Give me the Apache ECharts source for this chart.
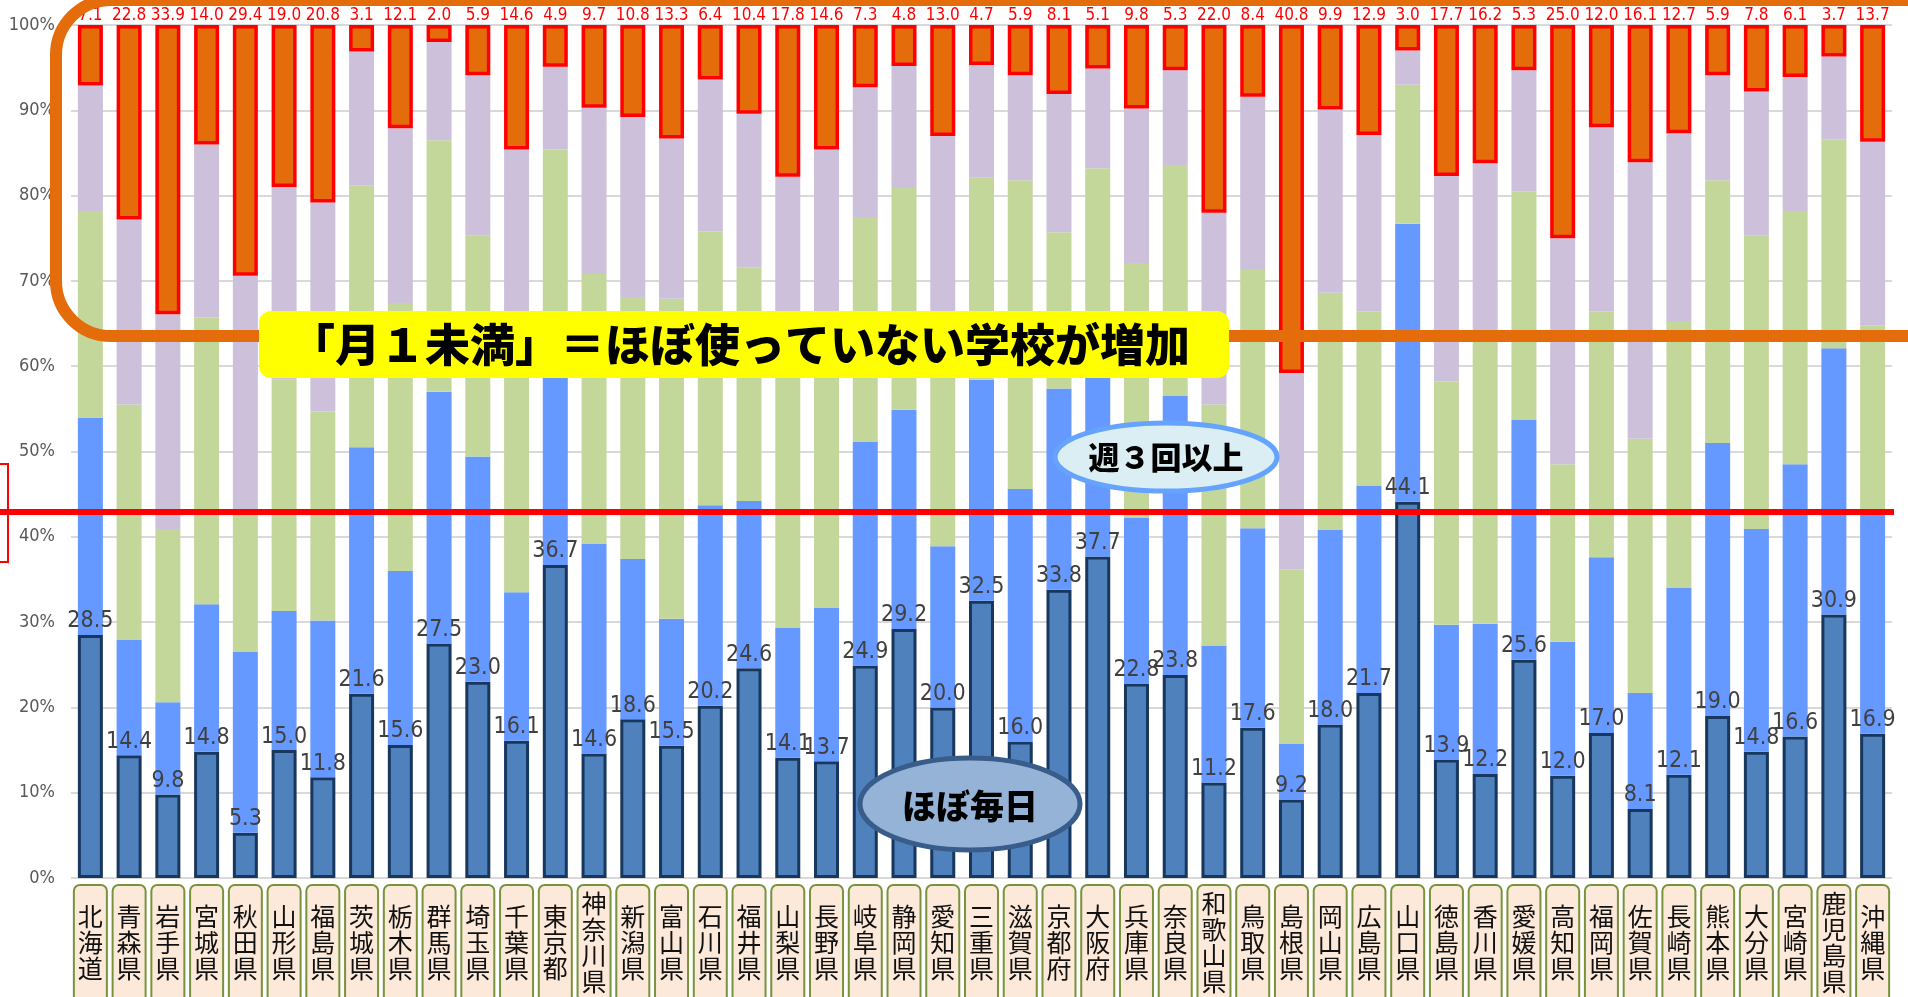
<!DOCTYPE html>
<html lang="ja">
<head>
<meta charset="utf-8">
<title>都道府県別 ICT活用頻度</title>
<script src="https://cdn.jsdelivr.net/npm/echarts@6/dist/echarts.min.js"></script>
<style>
  html, body { margin: 0; padding: 0; background: #fff; }
  #chart { width: 1908px; height: 997px; }
</style>
</head>
<body>
<div id="chart"></div>
<script>
const prefectures = ['北海道', '青森県', '岩手県', '宮城県', '秋田県', '山形県', '福島県', '茨城県', '栃木県', '群馬県',
  '埼玉県', '千葉県', '東京都', '神奈川県', '新潟県', '富山県', '石川県', '福井県', '山梨県', '長野県',
  '岐阜県', '静岡県', '愛知県', '三重県', '滋賀県', '京都府', '大阪府', '兵庫県', '奈良県', '和歌山県',
  '鳥取県', '島根県', '岡山県', '広島県', '山口県', '徳島県', '香川県', '愛媛県', '高知県', '福岡県',
  '佐賀県', '長崎県', '熊本県', '大分県', '宮崎県', '鹿児島県', '沖縄県'];

// % of schools, bottom to top
const daily = [28.5, 14.4, 9.8, 14.8, 5.3, 15.0, 11.8, 21.6, 15.6, 27.5,
  23.0, 16.1, 36.7, 14.6, 18.6, 15.5, 20.2, 24.6, 14.1, 13.7,
  24.9, 29.2, 20.0, 32.5, 16.0, 33.8, 37.7, 22.8, 23.8, 11.2,
  17.6, 9.2, 18.0, 21.7, 44.1, 13.9, 12.2, 25.6, 12.0, 17.0,
  8.1, 12.1, 19.0, 14.8, 16.6, 30.9, 16.9];
const weekly3 = [25.5, 13.5, 10.8, 17.3, 21.2, 16.3, 18.4, 28.9, 20.4, 29.5,
  26.4, 17.4, 23.3, 24.6, 18.8, 14.9, 23.5, 19.6, 15.2, 18.0,
  26.2, 25.7, 18.9, 25.9, 29.6, 23.6, 22.8, 19.4, 32.7, 16.0,
  23.4, 6.5, 22.8, 24.3, 32.6, 15.8, 17.6, 28.1, 15.7, 20.6,
  13.6, 21.9, 32.0, 26.1, 31.9, 31.2, 26.1];
const weekly1 = [24.2, 27.6, 20.3, 33.6, 16.5, 27.1, 24.5, 30.7, 31.4, 29.5,
  25.9, 28.5, 25.4, 31.6, 30.7, 37.5, 32.1, 27.4, 32.7, 30.3,
  26.4, 26.0, 23.1, 23.7, 36.2, 18.3, 22.7, 29.9, 27.1, 28.3,
  30.4, 20.5, 27.8, 20.4, 16.3, 28.5, 33.6, 26.8, 20.8, 28.8,
  29.8, 31.3, 30.8, 34.4, 29.7, 24.5, 21.8];
const monthly1 = [14.7, 21.7, 25.2, 20.3, 27.6, 22.6, 24.5, 15.7, 20.5, 11.5,
  18.8, 23.4, 9.7, 19.5, 21.1, 18.8, 17.8, 18.0, 20.2, 23.4,
  15.2, 14.3, 25.0, 13.2, 12.3, 16.2, 11.7, 18.1, 11.1, 22.5,
  20.2, 23.0, 21.5, 20.7, 4.0, 24.1, 20.4, 14.2, 26.5, 21.6,
  32.4, 22.0, 12.3, 16.9, 15.7, 9.7, 21.5];
const underMonthly = [7.1, 22.8, 33.9, 14.0, 29.4, 19.0, 20.8, 3.1, 12.1, 2.0,
  5.9, 14.6, 4.9, 9.7, 10.8, 13.3, 6.4, 10.4, 17.8, 14.6,
  7.3, 4.8, 13.0, 4.7, 5.9, 8.1, 5.1, 9.8, 5.3, 22.0,
  8.4, 40.8, 9.9, 12.9, 3.0, 17.7, 16.2, 5.3, 25.0, 12.0,
  16.1, 12.7, 5.9, 7.8, 6.1, 3.7, 13.7];
const nationalDaily = 42.9;

const numFont = 'DejaVu Sans Condensed';
const jpFont = 'Noto Sans CJK JP';

const chart = echarts.init(document.getElementById('chart'));

function seg(name, data, color, extra) {
  return Object.assign({
    name, type: 'bar', stack: 'total', data, barWidth: 25,
    itemStyle: { color }, emphasis: { disabled: true }
  }, extra || {});
}

chart.setOption({
  animation: false,
  backgroundColor: '#fff',
  grid: { left: 71, right: 16, top: 25, bottom: 119, outerBoundsMode: 'none' },
  xAxis: {
    type: 'category', data: prefectures,
    axisLine: { show: false }, axisTick: { show: false },
    axisLabel: {
      interval: 0, margin: 8, color: '#111', fontFamily: jpFont, fontSize: 25, lineHeight: 26,
      width: 31, height: 122, padding: [4, 0, 0, 0],
      backgroundColor: '#fde9d9', borderColor: '#77933c', borderWidth: 2, borderRadius: 5,
      formatter: name => (name.length < 4 ? '{sp|}\n' : '') + name.split('').join('\n'),
      rich: { sp: { height: 13, lineHeight: 13 } }
    }
  },
  yAxis: {
    type: 'value', min: 0, max: 100, interval: 10,
    axisLabel: { formatter: '{value}%', color: '#595959', fontFamily: numFont, fontSize: 18, margin: 16 },
    splitLine: { lineStyle: { color: '#d9d9d9', width: 2 } }
  },
  series: [
    seg('ほぼ毎日', daily, '#4f81bd', {
      itemStyle: { color: '#4f81bd', borderColor: '#17375e', borderWidth: 3 },
      label: { show: true, position: 'top', distance: 2, color: '#404040', fontFamily: numFont, fontSize: 23,
        formatter: p => p.value.toFixed(1) }
    }),
    seg('週３回以上', weekly3, '#6699ff'),
    seg('週１回以上', weekly1, '#c4d79b'),
    seg('月１回以上', monthly1, '#ccc0da'),
    seg('月１未満', underMonthly, '#e46c0a', {
      itemStyle: { color: '#e46c0a', borderColor: '#ff0000', borderWidth: 3.5 },
      label: { show: true, position: 'top', distance: 1, color: '#ff0000', fontFamily: numFont, fontSize: 17,
        formatter: p => p.value.toFixed(1) },
      markLine: {
        silent: true, symbol: 'none', label: { show: false },
        lineStyle: { color: '#ff0000', width: 6, type: 'solid' },
        data: [[{ xAxis: 0, yAxis: nationalDaily, x: 0 }, { xAxis: 46, yAxis: nationalDaily, x: 1894 }]]
      }
    })
  ],
  graphic: [
    { type: 'rect', z: 100, shape: { x: 56, y: 0, width: 1930, height: 336, r: 55 },
      style: { fill: 'none', stroke: '#e46c0a', lineWidth: 12 } },
    { type: 'rect', z: 101, shape: { x: 259, y: 311, width: 970, height: 67, r: 12 },
      style: { fill: '#ffff00' } },
    { type: 'text', z: 102, style: { text: '「月１未満」＝ほぼ使っていない学校が増加', x: 740, y: 345,
      align: 'center', verticalAlign: 'middle', fill: '#000', fontFamily: jpFont, fontWeight: 900, fontSize: 45 } },
    { type: 'ellipse', z: 101, shape: { cx: 1166, cy: 457, rx: 111, ry: 34 },
      style: { fill: '#dbeef4', stroke: '#66a3ff', lineWidth: 5 } },
    { type: 'text', z: 102, style: { text: '週３回以上', x: 1166, y: 457,
      align: 'center', verticalAlign: 'middle', fill: '#000', fontFamily: jpFont, fontWeight: 900, fontSize: 31 } },
    { type: 'ellipse', z: 101, shape: { cx: 970, cy: 804, rx: 110, ry: 46 },
      style: { fill: '#95b3d7', stroke: '#385d8a', lineWidth: 5 } },
    { type: 'text', z: 102, style: { text: 'ほぼ毎日', x: 970, y: 806,
      align: 'center', verticalAlign: 'middle', fill: '#000', fontFamily: jpFont, fontWeight: 900, fontSize: 34 } },
    { type: 'rect', z: 100, shape: { x: -20, y: 464, width: 28, height: 98 },
      style: { fill: 'none', stroke: '#ff0000', lineWidth: 2 } }
  ]
});

window.addEventListener('resize', () => chart.resize());
</script>
</body>
</html>
